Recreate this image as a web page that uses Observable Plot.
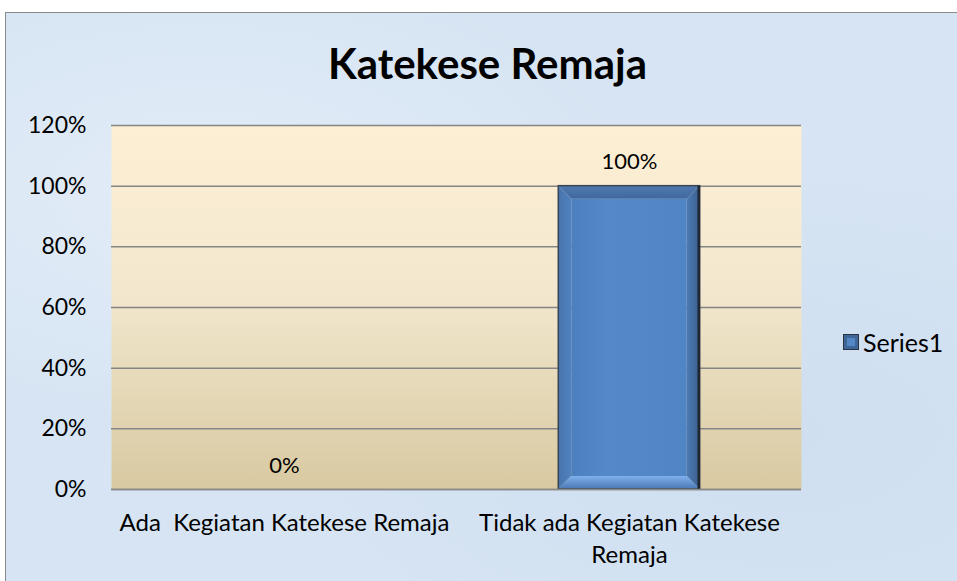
<!DOCTYPE html>
<html>
<head>
<meta charset="utf-8">
<script src="https://cdn.jsdelivr.net/npm/d3@7"></script>
<script src="https://cdn.jsdelivr.net/npm/@observablehq/plot@0.6"></script>
<style>
  html, body { margin: 0; padding: 0; background: #ffffff; }
  #wrap { position: relative; width: 957px; height: 581px; overflow: hidden; font-family: Lato, "Noto Sans", sans-serif; }
  #bg { position: absolute; left: 5px; top: 12px; width: 980px; height: 600px; border: 1px solid #8a8a8a;
        background:
          radial-gradient(ellipse at 20% 30%, rgba(235,242,250,0.6) 0%, rgba(235,242,250,0) 40%),
          radial-gradient(ellipse at 80% 70%, rgba(200,218,238,0.5) 0%, rgba(200,218,238,0) 45%),
          #d6e4f3; }
  #title { position: absolute; left: 0; width: 975px; top: 38px; text-align: center; font-weight: 700; font-size: 42px; color: #000; }
  #legend { position: absolute; left: 843px; top: 327px; font-size: 25px; color: #000; display: flex; align-items: center; }
  #legend .sw { width: 14px; height: 14px; border: 1px solid #2b3340; background: #5387c6; box-shadow: inset 0 0 0 3px #3f6699; margin-right: 4px; }
  #chart { position: absolute; left: 0; top: 0; }
</style>
</head>
<body>
<div id="wrap">
  <div id="bg"></div>
  <div id="title">Katekese Remaja</div>
  <div id="chart"></div>
  <div id="legend"><div class="sw"></div><span>Series1</span></div>
</div>
<script>
const categories = ["Ada  Kegiatan Katekese Remaja", "Tidak ada Kegiatan Katekese\nRemaja"];
const values = [0, 1.0];
const valueLabels = ["0%", "100%"];
const yTicks = [0, 0.2, 0.4, 0.6, 0.8, 1.0, 1.2];
const seriesName = "Series1";
const barPadding = 0.59;

const data = categories.map((c, i) => ({category: c, value: values[i], label: valueLabels[i], series: seriesName}));

// bevelled bar drawn through the plot's own x/y scales
function bevelBars(index, scales, values, dimensions, context) {
  const x = scales.x, y = scales.y;
  const step = Math.abs(x(categories[1]) - x(categories[0]));
  const rawBw = typeof x.bandwidth === "function" ? x.bandwidth() : 0;
  const bw = rawBw > 0 ? rawBw : step * (1 - barPadding);
  const g = d3.create("svg:g");
  for (const d of data) {
    if (!(d.value > 0)) continue;
    const x0 = rawBw > 0 ? x(d.category) : x(d.category) - bw / 2, x1 = x0 + bw;
    const y0 = y(d.value), y1 = y(0);
    const b = 13;
    const ix0 = x0 + b, ix1 = x1 - b, iy0 = y0 + b, iy1 = y1 - b;
    const poly = (pts, fill) => g.append("polygon").attr("points", pts.map(p => p.join(",")).join(" ")).attr("fill", fill);
    g.append("rect").attr("x", ix0).attr("y", iy0).attr("width", ix1 - ix0).attr("height", iy1 - iy0).attr("fill", "url(#face)");
    poly([[x0, y0], [x1, y0], [ix1, iy0], [ix0, iy0]], "url(#bevTop)");
    poly([[x0, y0], [ix0, iy0], [ix0, iy1], [x0, y1]], "url(#bevLeft)");
    poly([[x1, y0], [x1, y1], [ix1, iy1], [ix1, iy0]], "url(#bevRight)");
    poly([[x0, y1], [ix0, iy1], [ix1, iy1], [x1, y1]], "url(#bevBot)");
    g.append("rect").attr("x", x0).attr("y", y0).attr("width", bw).attr("height", y1 - y0)
      .attr("fill", "none").attr("stroke", "#3a4452").attr("stroke-width", 1.5);
    g.append("line").attr("x1", x1 - 1).attr("x2", x1 - 1).attr("y1", y0).attr("y2", y1)
      .attr("stroke", "#1f2733").attr("stroke-width", 2.5);
  }
  return g.node();
}

const fmt = d => Math.round(d * 100) + "%";

const chart = Plot.plot({
  width: 957,
  height: 581,
  marginLeft: 111,
  marginRight: 156,
  marginTop: 125,
  marginBottom: 92,
  style: {background: "transparent", fontFamily: "Lato, 'Noto Sans', sans-serif", fontSize: "22px", color: "#000"},
  x: {domain: categories, paddingInner: barPadding, paddingOuter: 0, label: null},
  y: {domain: [0, 1.2], label: null},
  marks: [
    Plot.frame({fill: "url(#plotGrad)", stroke: null}),
    Plot.gridY(yTicks, {stroke: "#858585", strokeOpacity: 1, strokeWidth: 1.5}),
    Plot.ruleX([0], {frameAnchor: "left", stroke: "#8a8a8a", strokeWidth: 1.5}),
    bevelBars,
    Plot.ruleY([0], {stroke: "#8a8a8a", strokeWidth: 1.5}),
    Plot.text(data, {x: "category", y: "value", text: "label", dy: -24, fontSize: 22, fill: "#000"}),
    Plot.axisY({ticks: yTicks, tickFormat: fmt, tickSize: 0, tickPadding: 25, fontSize: 23, label: null}),
    Plot.axisX({tickSize: 0, tickPadding: 18, fontSize: 24, label: null, lineHeight: 1.35})
  ]
});

const svg = d3.select(chart);
const defs = svg.insert("defs", ":first-child");
function lg(id, x2, y2, stops) {
  const g = defs.append("linearGradient").attr("id", id).attr("x1", 0).attr("y1", 0).attr("x2", x2).attr("y2", y2);
  stops.forEach(([o, c]) => g.append("stop").attr("offset", o).attr("stop-color", c));
}
lg("plotGrad", 0, 1, [["0%", "#fdefd4"], ["45%", "#f3e8cf"], ["100%", "#d8c9a1"]]);
lg("bevTop", 0, 1, [["0%", "#4f79b1"], ["100%", "#40689d"]]);
lg("bevLeft", 1, 0, [["0%", "#4874ad"], ["100%", "#5082c0"]]);
lg("bevRight", 1, 0, [["0%", "#4c7bb5"], ["100%", "#3b5e8d"]]);
lg("bevBot", 0, 1, [["0%", "#7fb0ec"], ["100%", "#4a78b6"]]);
lg("face", 1, 0, [["0%", "#4c7fbe"], ["30%", "#5588c8"], ["100%", "#5085c5"]]);

document.getElementById("chart").appendChild(chart);
</script>
</body>
</html>
